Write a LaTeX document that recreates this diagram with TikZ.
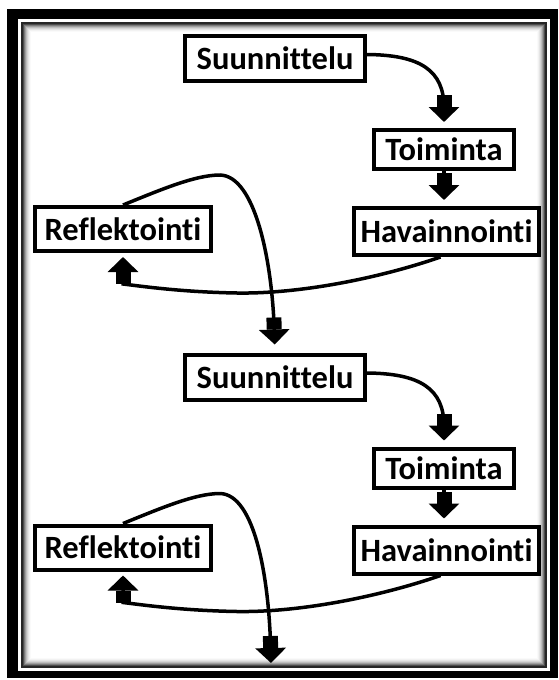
\documentclass[tikz,border=0pt]{standalone}
\usepackage{fontspec}
\setmainfont{Carlito}[Ligatures={NoCommon,NoRare,NoContextual}]
\usetikzlibrary{arrows.meta,calc}
\begin{document}
\begin{tikzpicture}[x=1pt,y=1pt,
  box/.style={draw=black,line width=4pt,fill=white,inner sep=0pt,
    font=\fontsize{32.5}{36}\selectfont\bfseries,text=black},
  conn/.style={line width=3.5pt,
    -{Rectangle[length=12pt,width=15pt]Triangle[length=15pt,width=30pt]}}]
\useasboundingbox (0,0) rectangle (558,-680);
% frame
\fill[white] (0,0) rectangle (558,-680);
\fill[black] (7,-9) rectangle (558,-678);
\fill[white] (18,-19) rectangle (550,-671);
\fill[black!85] (21,-22) rectangle (547,-668);
\foreach \i/\c in {2/70,3/52,4/38,5/26,6/17,7/10,8/5,9/2}
  \fill[black!\c] (21+\i,-22-\i) rectangle (547-\i,-668+\i);
\fill[white] (31,-32) rectangle (537,-658);
% block 1
\node[box,minimum width=180,minimum height=45] (S1) at (275,-58.5) {Suunnittelu};
\node[box,minimum width=140,minimum height=39] (T1) at (444,-149.5) {Toiminta};
\node[box,minimum width=185,minimum height=47] (H1) at (446.5,-231.5) {Havainnointi};
\node[box,minimum width=176,minimum height=44] (R1) at (123,-229) {Reflektointi};
% block 2
\begin{scope}[yshift=-318.5pt]
\node[box,minimum width=180,minimum height=45] (S2) at (275,-58.5) {Suunnittelu};
\node[box,minimum width=140,minimum height=39] (T2) at (444,-149.5) {Toiminta};
\node[box,minimum width=185,minimum height=47] (H2) at (446.5,-231.5) {Havainnointi};
\node[box,minimum width=176,minimum height=44] (R2) at (123,-229) {Reflektointi};
\coordinate (E) at (271,-344.5);
\end{scope}
% connectors block 1
\draw[conn,shorten >=6pt] ($(S1.east)+(0,4)$) .. controls (420,-55) and (444,-70) .. (T1.north);
\draw[conn,shorten >=6pt] (T1.south) -- (T1.south |- H1.north);
\draw[conn,shorten >=4pt] ($(H1.south)+(-6,0)$) .. controls (380,-278) and (300,-294) .. (237,-293)
   .. controls (180,-292) and (140,-286) .. ($(R1.south)+(0,-31)$) -- (R1.south);
\draw[conn,shorten >=8pt] (R1.north) .. controls (160,-190) and (195,-175) .. (220,-175)
   .. controls (255,-176) and (272,-260) .. (S2.north);
% connectors block 2
\begin{scope}[yshift=-318.5pt]
\draw[conn,shorten >=6pt] ($(S2.east)+(0,4)$) .. controls (420,-55) and (444,-70) .. (T2.north);
\draw[conn,shorten >=6pt] (T2.south) -- (T2.south |- H2.north);
\draw[conn,shorten >=4pt] ($(H2.south)+(-6,0)$) .. controls (380,-278) and (300,-294) .. (237,-293)
   .. controls (180,-292) and (140,-286) .. ($(R2.south)+(0,-31)$) -- (R2.south);
\draw[conn] (R2.north) .. controls (160,-190) and (195,-175) .. (220,-175)
   .. controls (255,-176) and (269,-260) .. (E);
\end{scope}
\end{tikzpicture}
\end{document}
